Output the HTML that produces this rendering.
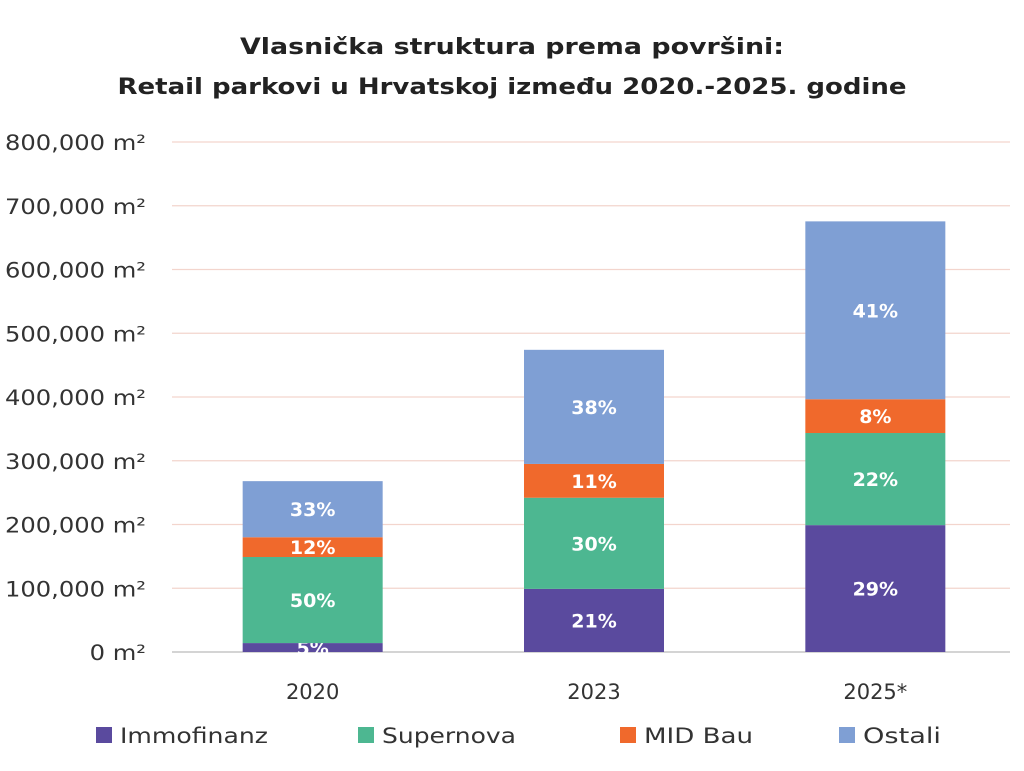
<!DOCTYPE html>
<html><head><meta charset="utf-8">
<style>
html,body{margin:0;padding:0;background:#fff;}
body{width:1024px;height:767px;overflow:hidden;font-family:"DejaVu Sans","Liberation Sans",sans-serif;}
</style></head>
<body>
<svg id="chart" width="1024" height="767" xmlns="http://www.w3.org/2000/svg">
<text x="512" y="54" text-anchor="middle" font-size="22" font-weight="bold" fill="#222" textLength="544" lengthAdjust="spacingAndGlyphs">Vlasnička struktura prema površini:</text>
<text x="512" y="94" text-anchor="middle" font-size="22" font-weight="bold" fill="#222" textLength="789" lengthAdjust="spacingAndGlyphs">Retail parkovi u Hrvatskoj između 2020.-2025. godine</text>
<g id="grid"></g><g id="bars"></g><g id="legend"></g>
</svg>
<script>
const categories=["2020","2023","2025*"];
const seriesNames=["Immofinanz","Supernova","MID Bau","Ostali"];
const immofinanz=[14000,99000,199000];
const supernova=[135000,143000,144500];
const midBau=[31000,53000,53000];
const ostali=[88000,179000,279000];
const pctImmofinanz=["5%","21%","29%"];
const pctSupernova=["50%","30%","22%"];
const pctMidBau=["12%","11%","8%"];
const pctOstali=["33%","38%","41%"];
const yTicks=[0,100000,200000,300000,400000,500000,600000,700000,800000];
const colors=["#5a4a9e","#4db791","#f0692c","#7f9fd4"];
const NS="http://www.w3.org/2000/svg";
const y0=652,yTop=142,yMax=800000;
const y=v=>y0-(v/yMax)*(y0-yTop);
const xLeft=172,xRight=1016,band=(xRight-xLeft)/categories.length,bw=140;
const xc=i=>xLeft+band*(i+0.5);
function mk(t,a,p){const e=document.createElementNS(NS,t);for(const k in a)e.setAttribute(k,a[k]);p.appendChild(e);return e;}
const grid=document.getElementById('grid');
yTicks.forEach(v=>{
 const l=mk('line',{x1:172,x2:1010,y1:y(v),y2:y(v),stroke:v===0?'#bbb':'#f3d5cd','stroke-width':1.3},grid);
 
 
 const s=v.toLocaleString('en-US')+' m²';
 const t=mk('text',{x:146,y:y(v)+8,'text-anchor':'end','font-size':21,fill:'#333',textLength:s.length*14.1,lengthAdjust:'spacingAndGlyphs'},grid);
 t.textContent=s;
 
 
});
const series=[immofinanz,supernova,midBau,ostali];
const pcts=[pctImmofinanz,pctSupernova,pctMidBau,pctOstali];
const bars=document.getElementById('bars');
categories.forEach((c,i)=>{
 let acc=0;const cx=xc(i);
 series.forEach((s,k)=>{
  const v=s[i];const top=y(acc+v),bot=y(acc);
  const r=mk('rect',{x:cx-bw/2,y:top,width:bw,height:bot-top,fill:colors[k]},bars);
  
  
  const t=mk('text',{x:cx,y:(top+bot)/2+7,'text-anchor':'middle','font-size':19,'font-weight':'bold',fill:'#fff'},bars);
  t.textContent=pcts[k][i];
  
  
  acc+=v;
 });
 const t=mk('text',{x:cx,y:699,'text-anchor':'middle','font-size':21,fill:'#333'},bars);
 t.textContent=c;
 
 
});
const lg=document.getElementById('legend');
const lx=[96,358,620,839];
const lw=[148,134,109,78];
seriesNames.forEach((n,k)=>{
 const r=mk('rect',{x:lx[k],y:727,width:16,height:16,fill:colors[k]},lg);
 
 
 const t=mk('text',{x:lx[k]+24,y:743,'font-size':21,fill:'#333',textLength:lw[k],lengthAdjust:'spacingAndGlyphs'},lg);
 t.textContent=n;
 
 
});
</script>
</body></html>
